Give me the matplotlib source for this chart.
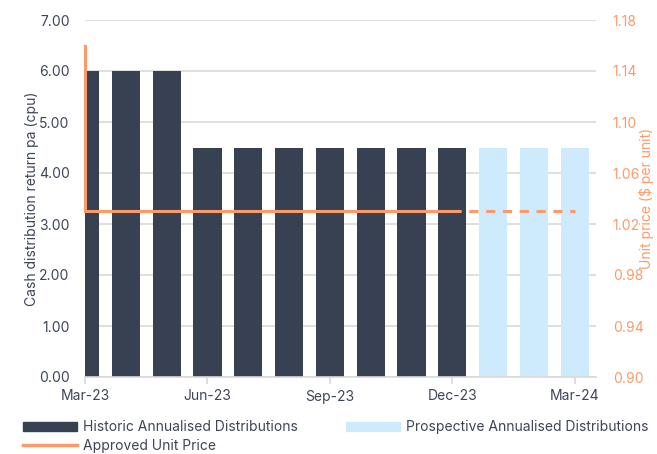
import matplotlib
matplotlib.use("Agg")
import matplotlib.pyplot as plt
from matplotlib.patches import Patch
from matplotlib.lines import Line2D
import numpy as np

# Data
months = ["Mar-23", "Apr-23", "May-23", "Jun-23", "Jul-23", "Aug-23", "Sep-23",
          "Oct-23", "Nov-23", "Dec-23", "Jan-24", "Feb-24", "Mar-24"]
historic = [6.00, 6.00, 6.00, 4.50, 4.50, 4.50, 4.50, 4.50, 4.50, 4.50, None, None, None]
prospective = [None, None, None, None, None, None, None, None, None, None, 4.50, 4.50, 4.50]
price_actual_idx = [0, 0, 9]
price_actual = [1.16, 1.03, 1.03]
price_forecast_idx = [9, 12]
price_forecast = [1.03, 1.03]
tick_idx = [0, 3, 6, 9, 12]

DARK = "#374151"
LIGHT = "#cdebfd"
ORANGE = "#fd9a67"
TXT = "#3d4556"

plt.rcParams['font.family'] = ['Inter', 'DejaVu Sans']

fig = plt.figure(figsize=(6.57, 4.54), dpi=100)
ax = fig.add_axes([85/657, 1-377/454, (596-85)/657, (377-20)/454])
ax2 = ax.twinx()

h_x = [i for i, v in enumerate(historic) if v is not None]
h_v = [v for v in historic if v is not None]
p_x = [i for i, v in enumerate(prospective) if v is not None]
p_v = [v for v in prospective if v is not None]
w = 0.69
ax.bar(h_x, h_v, width=w, color=DARK, zorder=2)
ax.bar(p_x, p_v, width=w, color=LIGHT, zorder=2)

ax.set_xlim(0, 12.52)
ax.set_ylim(0, 7)
ax.set_yticks(np.arange(0, 7.01, 1))
ax.set_yticklabels([f"{v:.2f}" for v in np.arange(0, 7.01, 1)])
ax.yaxis.grid(True, color="#d9d9d9", linewidth=1.2, zorder=0)
ax.set_axisbelow(True)
ax.set_xticks(tick_idx)
ax.set_xticklabels([months[i] for i in tick_idx])
for s in ["top", "right", "left"]:
    ax.spines[s].set_visible(False)
    ax2.spines[s].set_visible(False)
ax2.spines["bottom"].set_visible(False)
ax.spines["bottom"].set_color("#d9d9d9")
ax.spines["bottom"].set_linewidth(1.2)
ax.tick_params(axis="x", colors="#d9d9d9", length=5, width=1.2, labelcolor=TXT, labelsize=10, pad=4)
ax.tick_params(axis="y", length=0, labelcolor=TXT, labelsize=10, pad=11)
ax.set_ylabel("Cash distribution return pa (cpu)", color=TXT, fontsize=10, labelpad=0)

ax2.set_ylim(0.90, 1.18)
yt2 = np.arange(0.90, 1.1801, 0.04)
ax2.set_yticks(yt2)
ax2.set_yticklabels([f"{v:.2f}" for v in yt2])
ax2.tick_params(axis="y", length=0, labelcolor=ORANGE, labelsize=10, pad=12)
ax2.set_ylabel("Unit price ($ per unit)", color=ORANGE, fontsize=10, labelpad=-3)

ax2.plot(price_actual_idx, price_actual, color=ORANGE, linewidth=2.2, zorder=3,
         solid_joinstyle="miter", clip_on=False)
ax2.plot(price_forecast_idx, price_forecast, color=ORANGE, linewidth=2.2,
         linestyle=(0, (3, 2.5)), zorder=3)

handles = [Patch(color=DARK), Line2D([], [], color=ORANGE, linewidth=2.5), Patch(color=LIGHT)]
labels = ["Historic Annualised Distributions", "Approved Unit Price",
          "Prospective Annualised Distributions"]
fig.legend(handles, labels, ncol=2, loc="upper left", bbox_to_anchor=(0.035, 0.074),
           frameon=False, fontsize=10, handlelength=3.9, handleheight=0.7,
           handletextpad=0.4, columnspacing=3.5, labelspacing=0.35, borderaxespad=0,
           borderpad=0, labelcolor=TXT)

fig.savefig("out.png", dpi=100)
